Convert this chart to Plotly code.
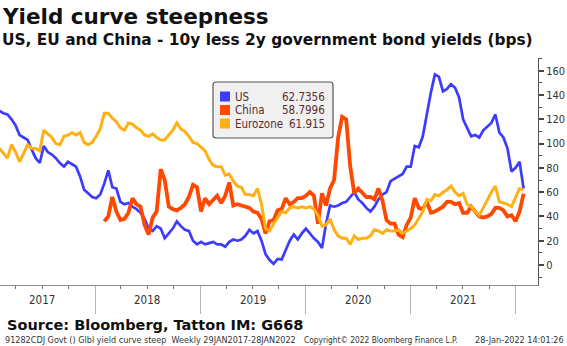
import pandas as pd
import plotly.graph_objects as go

# ---- data (bps), bi-weekly observations ending 28-Jan-2022 ----
N_POINTS = 131
dates = pd.date_range(end="2022-01-28", periods=N_POINTS, freq="14D")

us = [127, 125, 124, 120, 115, 107, 105, 103, 95, 88,
      84, 98, 93, 91, 88, 84, 81, 85, 83, 81,
      73, 62, 59, 56, 55, 58, 67, 78, 64, 63,
      52, 50, 51, 48, 46, 43, 38, 30, 28, 32,
      30, 22, 26, 30, 36, 32, 29, 28, 20, 17,
      19, 17, 18, 19, 17, 17, 15, 19, 21, 20,
      21, 24, 29, 26, 28, 20, 9, 4, 1, 5,
      4.5, 13, 20, 25, 21, 26, 30, 26, 22, 19,
      14, 34, 49, 48, 49, 51, 52, 56, 60, 54,
      51, 47, 44, 48, 54, 58, 60, 69, 71, 73,
      75, 81, 81, 98, 97, 106, 125, 142, 157, 155,
      143, 145, 149, 146, 138, 120, 113, 106, 107, 105,
      111, 114, 117, 124, 109, 105, 96, 77, 80, 85,
      62.7356]

china = [None] * 26 + [
      36, 40, 56, 44, 37, 38, 43, 55, 50, 48,
      33, 25, 39, 44, 79, 70, 48, 46, 45, 47,
      50, 56, 66, 64, 44, 55, 50, 53, 57, 51,
      57, 68, 49, 50, 49, 48, 47, 44, 43, 38,
      26, 36, 37, 45, 46, 55, 50, 52, 55, 55,
      57, 60, 57, 34, 59, 49, 63, 70, 105, 122,
      120, 81, 59, 63, 60, 56, 56, 54, 63, 53,
      37, 34, 34, 25, 23, 33, 39, 55, 47, 46,
      52, 43, 44, 46, 48, 52, 52, 50, 51, 43,
      43, 48, 44, 40, 39, 40, 42, 47, 47, 45,
      40, 41, 36, 44, 58.7996]

eurozone = [96, 92, 88, 99, 93, 85, 92, 99, 96, 96,
      94, 111, 108, 105, 100, 99, 106, 107, 109, 107,
      109, 101, 99, 101, 106, 112, 125, 125, 121, 118,
      113, 111, 117, 116, 113, 111, 107, 106, 108, 105,
      103, 103, 107, 111, 117, 112, 110, 106, 101, 100,
      97, 94, 87, 82, 81, 81, 74, 75, 69, 65,
      64, 58, 58, 57, 63, 50, 30, 28, 34, 39,
      44, 43, 47, 48, 47, 48, 47, 48, 46, 41,
      32, 33, 38, 29, 24, 22, 22, 17, 24, 21,
      22, 22, 24, 29, 28, 26, 29, 28, 28, 29,
      26, 28, 30, 33, 39, 44, 54, 53, 58, 57,
      60, 62, 65, 60, 57, 59, 50, 48, 44, 41,
      47, 54, 60, 65, 52, 51, 50, 48, 56, 63,
      61.915]

series_names = ["US", "China", "Eurozone"]
series_last = ["62.7356", "58.7996", "61.915"]
series_colors = ["#3c3cff", "#ff4800", "#ffb015"]
year_labels = ["2017", "2018", "2019", "2020", "2021"]
y_ticks = [0, 20, 40, 60, 80, 100, 120, 140, 160]

# ---- figure ----
W, H = 567, 346
ML, MR, MT, MB = 0, 29, 58, 61
PW, PH = W - ML - MR, H - MT - MB


def px(x):
    return (x - ML) / PW


def py(y):
    return (H - MB - y) / PH


fig = go.Figure()
widths = [2.7, 3.8, 3.0]
for name, vals, col, w in zip(series_names, [us, china, eurozone], series_colors, widths):
    fig.add_trace(go.Scatter(x=dates, y=vals, name=name, mode="lines",
                             line=dict(color=col, width=w), connectgaps=False,
                             showlegend=False, hoverinfo="skip"))

font_small = "DejaVu Sans Condensed, DejaVu Sans, sans-serif"
font_bold = "DejaVu Sans, Verdana, sans-serif"

fig.update_layout(
    width=W, height=H,
    margin=dict(l=ML, r=MR, t=MT, b=MB, pad=0),
    paper_bgcolor="white", plot_bgcolor="white",
    xaxis=dict(
        type="date", range=["2017-02-05", "2022-03-19"],
        tickvals=[f"{y}-01-01" for y in range(2017, 2023)],
        ticktext=["" for _ in range(2017, 2023)],
        ticks="outside", ticklen=28, tickwidth=1, tickcolor="#b4b4b4",
        minor=dict(dtick="M3", ticks="outside", ticklen=3, tickcolor="#777", tickwidth=1),
        showline=True, linecolor="#8a8a8a", linewidth=1,
        showgrid=False, zeroline=False,
    ),
    yaxis=dict(
        side="right", range=[-16.5, 170.5],
        tickvals=y_ticks, ticks="outside", ticklen=5, tickwidth=2, tickcolor="#444",
        minor=dict(dtick=10, tick0=0, ticks="outside", ticklen=3, tickcolor="#444", tickwidth=1),
        showline=True, linecolor="#555", linewidth=1,
        tickfont=dict(family=font_small, size=11, color="#333"),
        showgrid=False, zeroline=False,
    ),
)

ann = []
# year labels centred in each year
for yl in year_labels:
    ann.append(dict(x=f"{yl}-07-02", xref="x", y=py(300), yref="paper",
                    text=yl, showarrow=False, xanchor="center", yanchor="middle",
                    font=dict(family=font_small, size=11.5, color="#333")))
# titles
ann.append(dict(x=px(0), y=py(17), xref="paper", yref="paper", text="<b>Yield curve steepness</b>",
                showarrow=False, xanchor="left", yanchor="middle",
                font=dict(family=font_bold, size=21.5, color="#111")))
ann.append(dict(x=px(0), y=py(40), xref="paper", yref="paper",
                text="<b>US, EU and China - 10y less 2y government bond yields (bps)</b>",
                showarrow=False, xanchor="left", yanchor="middle",
                font=dict(family=font_bold, size=15.4, color="#111")))
ann.append(dict(x=px(5), y=py(325), xref="paper", yref="paper",
                text="<b>Source: Bloomberg, Tatton IM: G668</b>",
                showarrow=False, xanchor="left", yanchor="middle",
                font=dict(family=font_bold, size=14.5, color="#111")))
small = dict(family=font_small, size=9, color="#333")
ann.append(dict(x=px(3), y=py(340), xref="paper", yref="paper",
                text="91282CDJ Govt () Glbl yield curve steep  Weekly 29JAN2017-28JAN2022",
                showarrow=False, xanchor="left", yanchor="middle", font=small))
ann.append(dict(x=px(302), y=py(340), xref="paper", yref="paper",
                text="Copyright© 2022 Bloomberg Finance L.P.",
                showarrow=False, xanchor="left", yanchor="middle",
                font=dict(family=font_small, size=8.3, color="#333")))
ann.append(dict(x=px(566), y=py(340), xref="paper", yref="paper",
                text="28-Jan-2022 14:01:26",
                showarrow=False, xanchor="right", yanchor="middle", font=small))

# legend box
bx0, bx1, by0, by1 = 213, 333, 82, 138
r = 3
path = (f"M {px(bx0 + r)},{py(by0)} L {px(bx1 - r)},{py(by0)} "
        f"Q {px(bx1)},{py(by0)} {px(bx1)},{py(by0 + r)} "
        f"L {px(bx1)},{py(by1 - r)} Q {px(bx1)},{py(by1)} {px(bx1 - r)},{py(by1)} "
        f"L {px(bx0 + r)},{py(by1)} Q {px(bx0)},{py(by1)} {px(bx0)},{py(by1 - r)} "
        f"L {px(bx0)},{py(by0 + r)} Q {px(bx0)},{py(by0)} {px(bx0 + r)},{py(by0)} Z")
shapes = [dict(type="path", path=path, xref="paper", yref="paper",
               fillcolor="#f0f0f0", line=dict(color="#555", width=1.2), layer="above")]
rows = [96.5, 110, 123.5]
legend_font = dict(family=font_small, size=11.5, color="#5a2d2d")
for name, val, col, ry in zip(series_names, series_last, series_colors, rows):
    shapes.append(dict(type="rect", xref="paper", yref="paper",
                       x0=px(220), x1=px(230), y0=py(ry + 5), y1=py(ry - 5),
                       fillcolor=col, line=dict(width=0), layer="above"))
    ann.append(dict(x=px(233), y=py(ry), xref="paper", yref="paper", text=name,
                    showarrow=False, xanchor="left", yanchor="middle", font=legend_font))
    ann.append(dict(x=px(327), y=py(ry), xref="paper", yref="paper", text=val,
                    showarrow=False, xanchor="right", yanchor="middle", font=legend_font))

fig.update_layout(annotations=ann, shapes=shapes)
fig.write_html("out.html")
